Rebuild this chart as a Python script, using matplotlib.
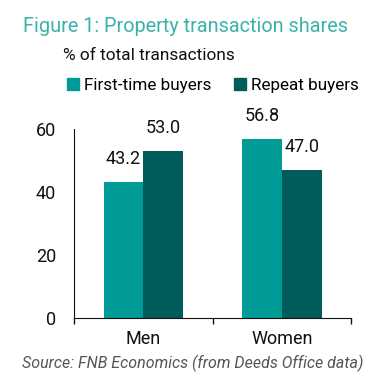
import numpy as np
import matplotlib.pyplot as plt
from matplotlib.patches import Patch

categories = ['Men', 'Women']
first_time = [43.2, 56.8]
repeat = [53.0, 47.0]
series_names = ['First-time buyers', 'Repeat buyers']

TEAL = '#009B97'
DARK = '#005C5B'

plt.rcParams['font.family'] = ['Roboto', 'DejaVu Sans']

fig = plt.figure(figsize=(3.78, 3.90), dpi=100)
ax = fig.add_axes([0.196, 0.185, 0.733, 0.484])

x = np.arange(len(categories))
w = 0.286
b1 = ax.bar(x - w / 2, first_time, w, color=TEAL)
b2 = ax.bar(x + w / 2, repeat, w, color=DARK)

# value labels above the bars
for bars, vals in ((b1, first_time), (b2, repeat)):
    for rect, v in zip(bars, vals):
        ax.annotate(f'{v:.1f}', (rect.get_x() + rect.get_width() / 2, v),
                    xytext=(0, 10), textcoords='offset points',
                    ha='center', va='bottom', fontsize=13, color='#111111')

ax.set_xlim(-0.5, 1.5)
ax.set_ylim(0, 60)
ax.set_yticks([0, 20, 40, 60])
ax.set_xticks(x)
ax.set_xticklabels(categories)
ax.set_xticks([-0.5, 0.5, 1.5], minor=True)
ax.tick_params(axis='y', length=0, pad=13, labelsize=13, colors='#111111')
ax.tick_params(axis='x', which='major', length=0, pad=9, labelsize=13, colors='#111111')
ax.tick_params(axis='x', which='minor', length=4, width=1, color='#111111')

for s in ['top', 'right']:
    ax.spines[s].set_visible(False)
ax.spines['left'].set_color('#111111')
ax.spines['bottom'].set_color('#111111')

fig.text(0.06, 0.933, 'Figure 1: Property transaction shares', fontsize=14.3,
         color='#3BB3AC', ha='left', va='center')
fig.text(0.167, 0.857, '% of total transactions', fontsize=12.4,
         color='#111111', ha='left', va='center')

handles = [Patch(color=TEAL), Patch(color=DARK)]
fig.legend(handles, series_names, loc='center left', bbox_to_anchor=(0.155, 0.782),
           ncol=2, frameon=False, fontsize=12.3, handlelength=0.7, handleheight=0.7,
           handletextpad=0.3, columnspacing=1.3, borderpad=0)

fig.text(0.058, 0.069, 'Source: FNB Economics (from Deeds Office data)', fontsize=11.5,
         color='#555555', style='italic', ha='left', va='center')

fig.savefig('out.png', dpi=100)
